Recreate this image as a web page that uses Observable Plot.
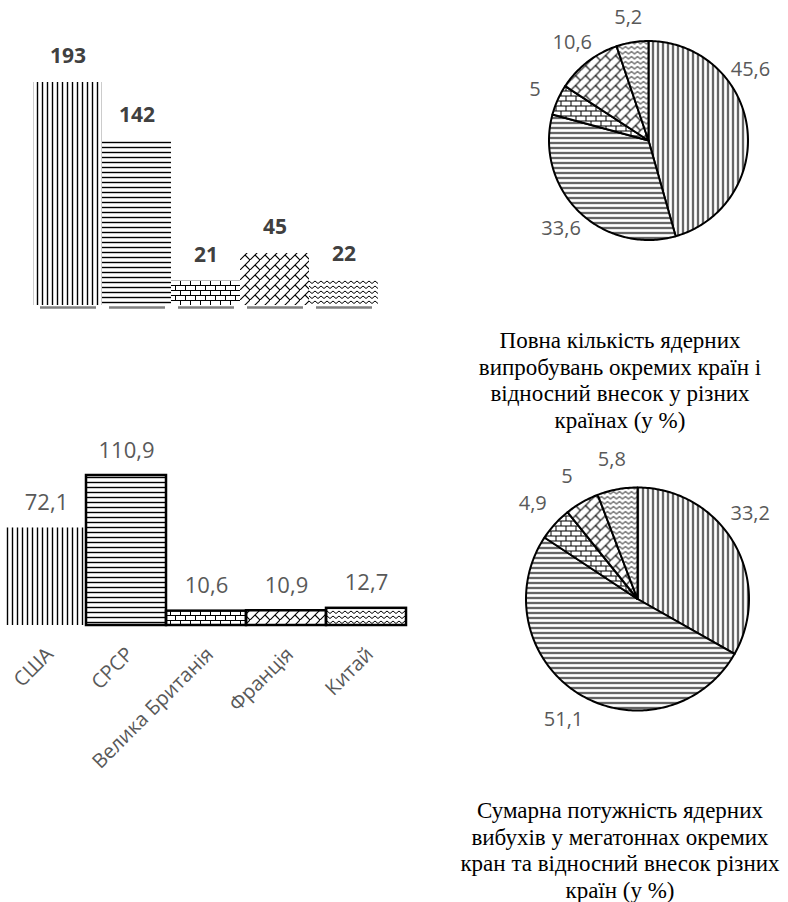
<!DOCTYPE html>
<html>
<head>
<meta charset="utf-8">
<script src="https://cdn.jsdelivr.net/npm/d3@7"></script>
<script src="https://cdn.jsdelivr.net/npm/@observablehq/plot@0.6"></script>
<style>
  body { margin: 0; background: #fff; }
  #page { position: relative; width: 788px; height: 902px; overflow: hidden; background: #fff; }
  .panel { position: absolute; }
  .panel svg { overflow: visible; }
  .caption {
    position: absolute;
    width: 360px;
    font-family: "Liberation Serif", "Times New Roman", serif;
    font-size: 23px;
    line-height: 26.5px;
    text-align: center;
    color: #000;
    white-space: nowrap;
  }
</style>
</head>
<body>
<!-- hatch fills shared by all four charts -->
<svg width="0" height="0" style="position:absolute">
  <defs>
    <pattern id="pat-vert" width="5" height="5" patternUnits="userSpaceOnUse">
      <rect width="5" height="5" fill="#fff"/>
      <line x1="2.5" y1="-1" x2="2.5" y2="6" stroke="#000" stroke-width="1.4"/>
    </pattern>
    <pattern id="pat-horiz" width="5" height="5" patternUnits="userSpaceOnUse">
      <rect width="5" height="5" fill="#fff"/>
      <line x1="-1" y1="2.5" x2="6" y2="2.5" stroke="#000" stroke-width="1.4"/>
    </pattern>
    <pattern id="pat-brick" width="10" height="10" patternUnits="userSpaceOnUse">
      <rect width="10" height="10" fill="#fff"/>
      <path d="M0,0.5H10M0,5.5H10M0.5,0.5V5.5M5.5,5.5V10.5" stroke="#000" stroke-width="1" fill="none"/>
    </pattern>
    <pattern id="pat-diagbrick" width="10" height="10" patternUnits="userSpaceOnUse">
      <rect width="10" height="10" fill="#fff"/>
      <path d="M-1,11L11,-1M5,5L10.5,10.5" stroke="#000" stroke-width="1.1" fill="none"/>
    </pattern>
    <pattern id="pat-zigzag" width="6" height="5" patternUnits="userSpaceOnUse">
      <rect width="6" height="5" fill="#fff"/>
      <path d="M-1,4.3L0,3.5L3,1L6,3.5L7,4.3" stroke="#000" stroke-width="1" fill="none"/>
    </pattern>
  </defs>
</svg>

<div id="page">
  <div class="panel" id="tests-bars" style="left:0;top:0"></div>
  <div class="panel" id="tests-pie" style="left:430px;top:0"></div>
  <div class="caption" id="tests-caption" style="left:440px;top:328px"></div>
  <div class="panel" id="yield-bars" style="left:0;top:420px"></div>
  <div class="panel" id="yield-pie" style="left:430px;top:440px"></div>
  <div class="caption" id="yield-caption" style="left:440px;top:798px"></div>
</div>

<script>
// Nuclear tests and total yield by country
const countries = ["США", "СРСР", "Велика Британія", "Франція", "Китай"];
const testCounts = [193, 142, 21, 45, 22];          // number of tests
const testShares = [45.6, 33.6, 5, 10.6, 5.2];      // share of tests, %
const yieldMt = [72.1, 110.9, 10.6, 10.9, 12.7];    // total yield, Mt
const yieldShares = [33.2, 51.1, 4.9, 5, 5.8];      // share of yield, %

const captionTests = ["Повна кількість ядерних", "випробувань окремих країн і", "відносний внесок у різних", "країнах (у %)"];
const captionYield = ["Сумарна потужність ядерних", "вибухів у мегатоннах окремих", "кран та відносний внесок різних", "країн (у %)"];

// one hatch per country
const patternIds = ["vert", "horiz", "brick", "diagbrick", "zigzag"];
const hatch = {
  type: "ordinal",
  domain: countries,
  range: patternIds.map(id => `url(#pat-${id})`)
};

const fmt = v => String(v).replace(".", ",");
const labelFont = "'Open Sans', 'DejaVu Sans', sans-serif";
const transparent = {background: "transparent", overflow: "visible", fontFamily: labelFont};

// ---- bar chart: number of tests ----
const tests = countries.map((c, i) => ({country: c, value: testCounts[i]}));
document.getElementById("tests-bars").append(Plot.plot({
  width: 420, height: 330, margin: 0,
  style: transparent,
  x: {domain: countries, range: [31, 380], padding: 0, axis: null},
  y: {domain: [0, d3.max(testCounts)], range: [305, 82], axis: null},
  color: hatch,
  marks: [
    Plot.barY(tests, {x: "country", y: "value", fill: "country"}),
    Plot.tickY(tests, {x: "country", y: 0, stroke: "#7f7f7f", strokeWidth: 2.5, dy: 2, insetLeft: 7, insetRight: 6}),
    Plot.text(tests, {x: "country", y: "value", text: d => fmt(d.value), dy: -26,
      fontSize: 21, fontWeight: "bold", fill: "#404040", fontFamily: labelFont})
  ]
}));

// ---- bar chart: total yield ----
const yields = countries.map((c, i) => ({country: c, value: yieldMt[i]}));
document.getElementById("yield-bars").append(Plot.plot({
  width: 440, height: 380, margin: 0,
  style: transparent,
  x: {domain: countries, range: [6, 406], padding: 0, axis: null},
  y: {domain: [0, d3.max(yieldMt)], range: [205, 55], axis: null},
  color: hatch,
  marks: [
    Plot.barY(yields, {x: "country", y: "value", fill: "country"}),
    Plot.barY(yields.filter(d => d.country !== countries[0]),
      {x: "country", y: "value", fill: "none", stroke: "#000", strokeWidth: 2.5}),
    Plot.text(yields, {x: "country", y: "value", text: d => fmt(d.value), dy: -25,
      fontSize: 22, fill: "#595959", fontFamily: labelFont}),
    Plot.text(countries, {x: Plot.identity, y: 0, text: Plot.identity, rotate: -45,
      textAnchor: "end", lineAnchor: "top", dx: -2, dy: 20,
      fontSize: 20, fill: "#595959", fontFamily: labelFont})
  ]
}));

// ---- pie charts (clockwise from 12 o'clock) ----
function sliceRows(shares) {
  const total = d3.sum(shares);
  let acc = 0;
  return shares.map((v, i) => {
    const a0 = acc / total * 2 * Math.PI;
    acc += v;
    const a1 = acc / total * 2 * Math.PI;
    return {country: countries[i], value: v, a0, a1, mid: (a0 + a1) / 2};
  });
}

function sliceOutline(slices) {
  const pts = [];
  for (const s of slices) {
    const n = Math.max(2, Math.ceil((s.a1 - s.a0) / (Math.PI / 180)));
    pts.push({country: s.country, x: 0, y: 0});
    for (let k = 0; k <= n; k++) {
      const a = s.a0 + (s.a1 - s.a0) * k / n;
      pts.push({country: s.country, x: Math.sin(a), y: Math.cos(a)});
    }
    pts.push({country: s.country, x: 0, y: 0});
  }
  return pts;
}

// label angle: the slice's middle, turned toward 12 o'clock when the
// label would run past the right edge of the chart
function labelAngle(s, {width, cx, r, labelR, fontSize}) {
  const half = fmt(s.value).length * 0.29 * fontSize;
  const limit = width - 14 - half;
  let a = s.mid;
  while (a > 0 && cx + labelR * r * Math.sin(a) > limit) a -= Math.PI / 180;
  return a;
}

function pie(shares, opts) {
  const {width, height, cx, cy, r, labelR, fontSize} = opts;
  const slices = sliceRows(shares);
  slices.forEach(s => { s.labelA = labelAngle(s, opts); });
  return Plot.plot({
    width, height, margin: 0,
    style: transparent,
    x: {domain: [-1, 1], range: [cx - r, cx + r], axis: null},
    y: {domain: [-1, 1], range: [cy + r, cy - r], axis: null},
    color: hatch,
    marks: [
      Plot.line(sliceOutline(slices), {x: "x", y: "y", z: "country", fill: "country",
        stroke: "#000", strokeWidth: 2, strokeLinejoin: "round"}),
      Plot.text(slices, {
        x: d => labelR * Math.sin(d.labelA),
        y: d => labelR * Math.cos(d.labelA),
        text: d => fmt(d.value),
        fontSize, fill: "#595959", fontFamily: labelFont
      })
    ]
  });
}

document.getElementById("tests-pie").append(
  pie(testShares, {width: 358, height: 300, cx: 218, cy: 140, r: 99.5, labelR: 1.25, fontSize: 20}));
document.getElementById("yield-pie").append(
  pie(yieldShares, {width: 358, height: 300, cx: 207, cy: 158.5, r: 111.5, labelR: 1.27, fontSize: 20}));

// ---- captions ----
document.getElementById("tests-caption").innerHTML = captionTests.join("<br>");
document.getElementById("yield-caption").innerHTML = captionYield.join("<br>");
</script>
</body>
</html>
